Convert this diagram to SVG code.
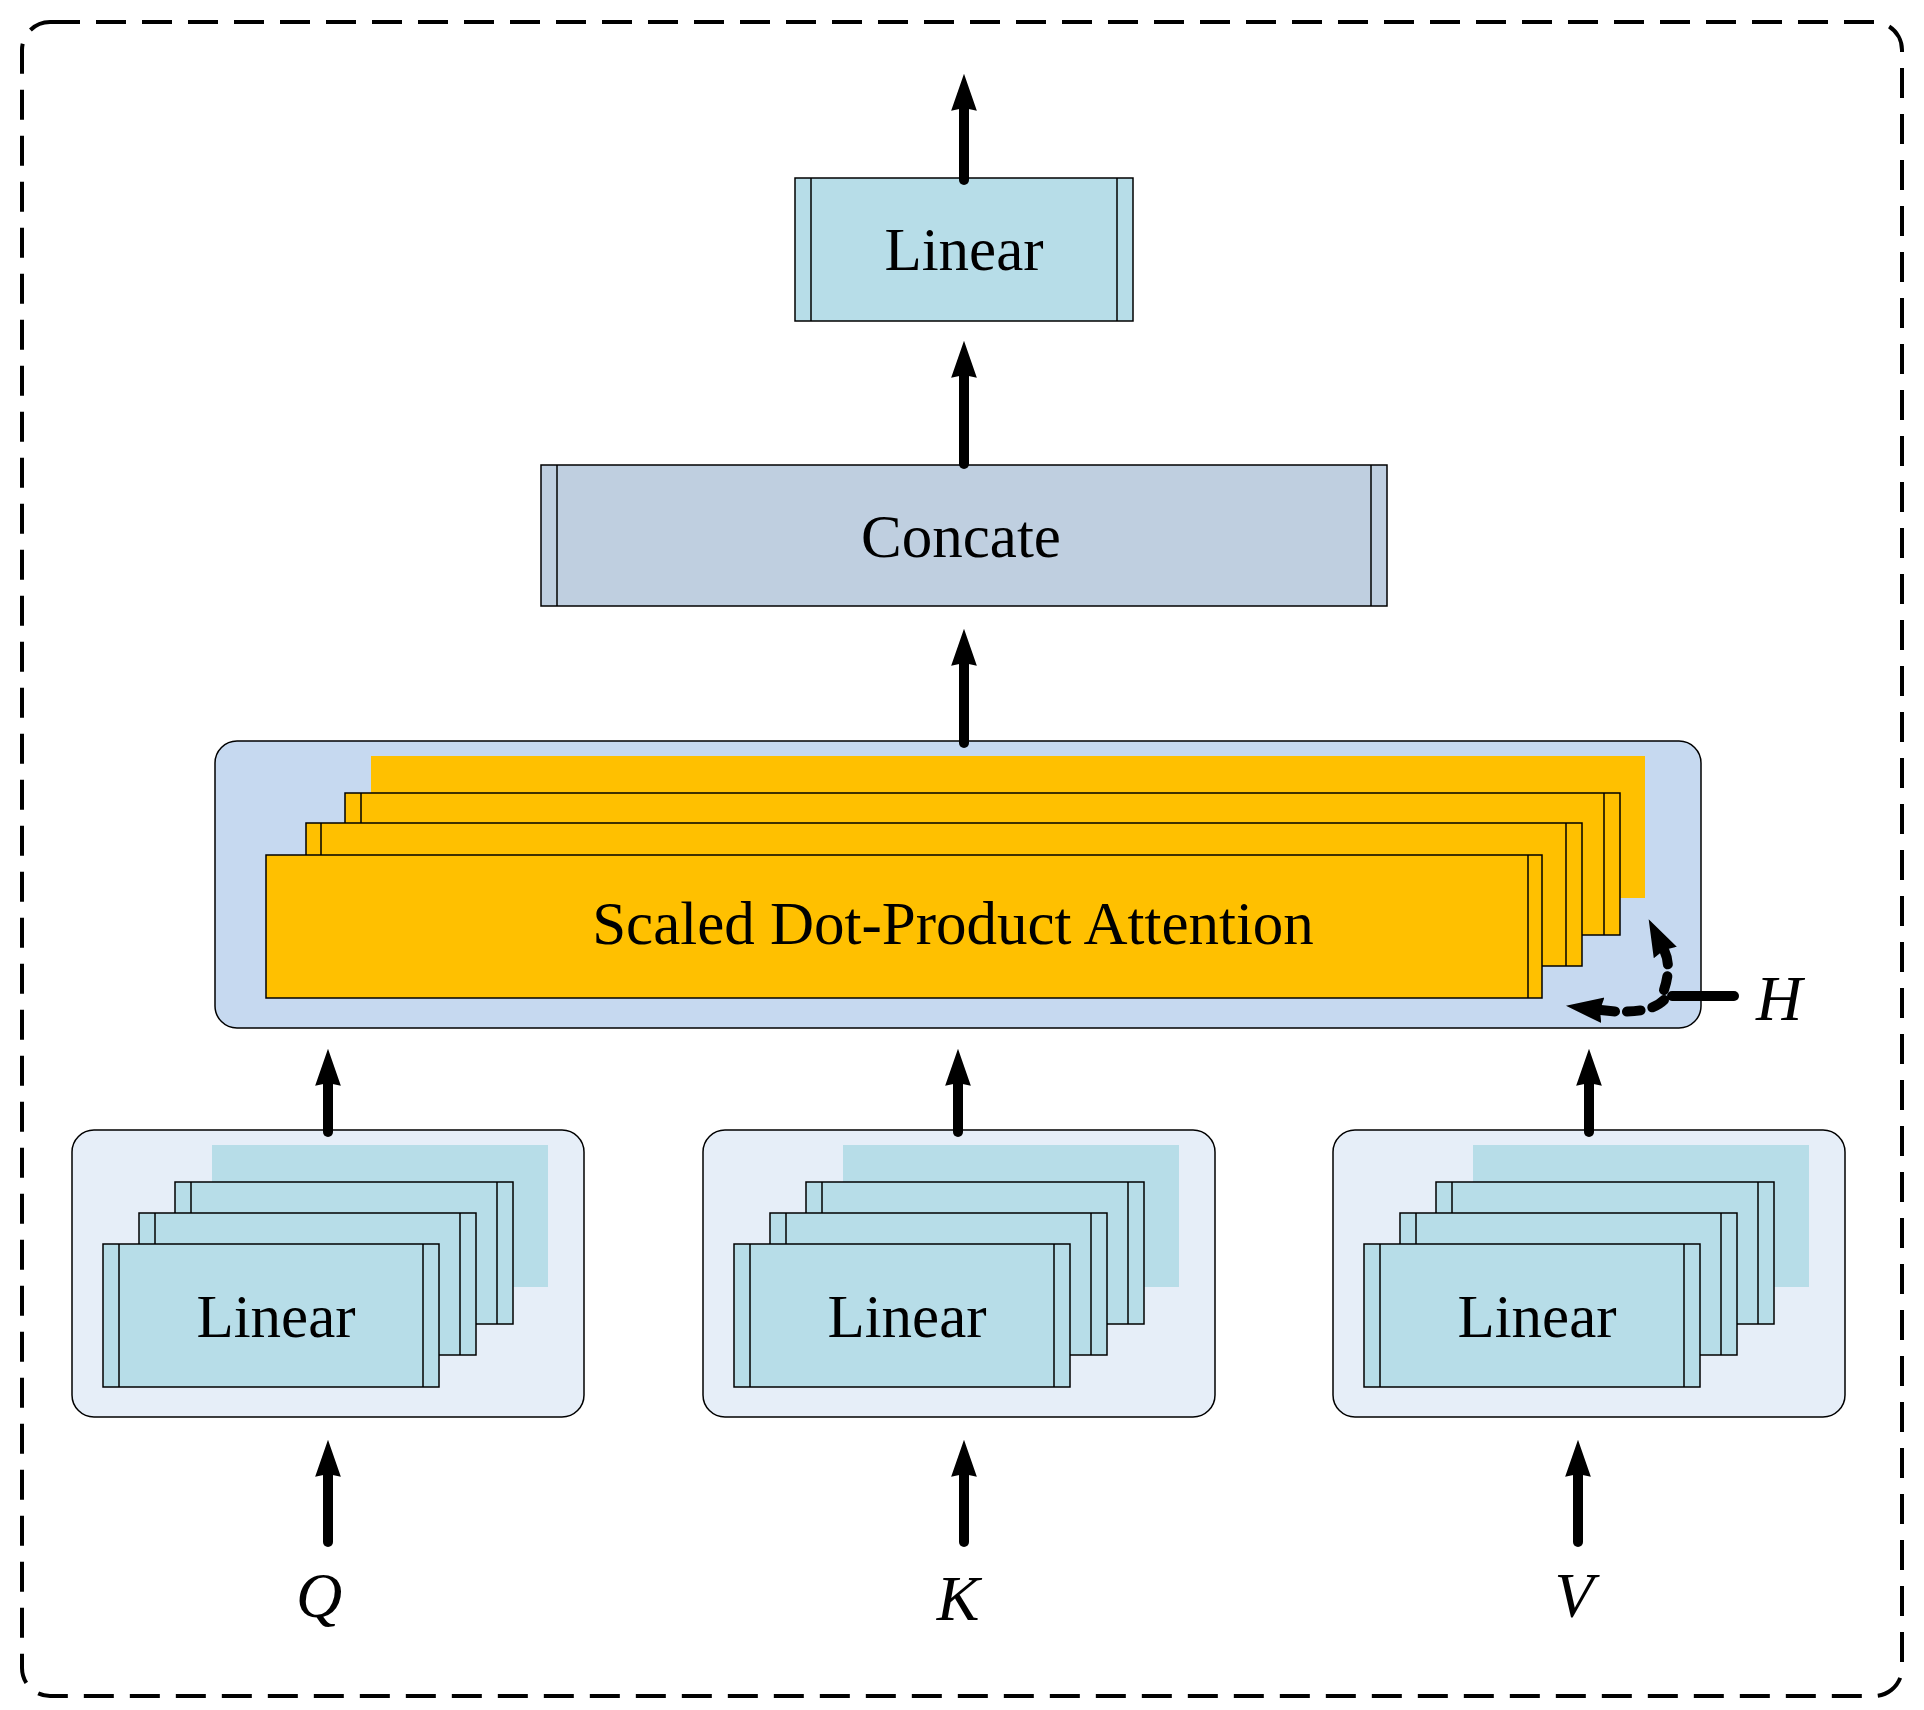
<svg xmlns="http://www.w3.org/2000/svg" width="1924" height="1710" viewBox="0 0 1924 1710">
<defs>
<marker id="ah" markerUnits="userSpaceOnUse" markerWidth="40" markerHeight="56" refX="4" refY="20" orient="auto" viewBox="0 0 56 40">
<path d="M0,2 L4,20 L0,38 L52,20 Z" fill="#000"/>
</marker>
<style>
.arr{stroke:#000;stroke-width:10;fill:none;stroke-linecap:round}
.lin{fill:#b7dde8;stroke:#000;stroke-width:1.5}
.att{fill:#ffc000;stroke:#000;stroke-width:1.5}
.t{font-family:"Liberation Serif",serif;font-size:61px;text-anchor:middle;fill:#000}
.i{font-family:"Liberation Serif",serif;font-size:64px;font-style:italic;text-anchor:middle;fill:#000}
.ln{stroke:#000;stroke-width:1.5}
</style>
</defs>
<rect x="22" y="22" width="1880" height="1674" rx="28" fill="none" stroke="#000" stroke-width="4" stroke-dasharray="30,16"/>

<g id="linear-top">
<rect class="lin" x="795" y="178" width="338" height="143"/>
<line class="ln" x1="811" y1="178" x2="811" y2="321"/><line class="ln" x1="1117" y1="178" x2="1117" y2="321"/>
<text class="t" x="964" y="270">Linear</text>
</g>
<g id="concate">
<rect x="541" y="465" width="846" height="141" fill="#bfcfe0" stroke="#000" stroke-width="1.5"/>
<line class="ln" x1="557" y1="465" x2="557" y2="606"/><line class="ln" x1="1371" y1="465" x2="1371" y2="606"/>
<text class="t" x="961" y="557">Concate</text>
</g>
<g id="attention">
<rect x="215" y="741" width="1486" height="287" rx="22" fill="#c6d9f0" stroke="#000" stroke-width="1.5"/>
<rect x="371" y="756" width="1274" height="142" fill="#ffc000"/>
<rect class="att" x="345" y="793" width="1275" height="142"/>
<line class="ln" x1="361" y1="793" x2="361" y2="935"/><line class="ln" x1="1604" y1="793" x2="1604" y2="935"/>
<rect class="att" x="306" y="823" width="1276" height="143"/>
<line class="ln" x1="321" y1="823" x2="321" y2="966"/><line class="ln" x1="1566" y1="823" x2="1566" y2="966"/>
<rect class="att" x="266" y="855" width="1276" height="143"/>
<line class="ln" x1="1528" y1="855" x2="1528" y2="998"/>
<text class="t" x="953" y="944">Scaled Dot-Product Attention</text>
</g>
<g id="linear-q">
<rect x="72" y="1130" width="512" height="287" rx="22" fill="#e6eef8" stroke="#000" stroke-width="1.5"/>
<rect x="212" y="1145" width="336" height="142" fill="#b7dde8"/>
<rect class="lin" x="175" y="1182" width="338" height="142"/><line class="ln" x1="191" y1="1182" x2="191" y2="1324"/><line class="ln" x1="497" y1="1182" x2="497" y2="1324"/>
<rect class="lin" x="139" y="1213" width="337" height="142"/><line class="ln" x1="155" y1="1213" x2="155" y2="1355"/><line class="ln" x1="460" y1="1213" x2="460" y2="1355"/>
<rect class="lin" x="103" y="1244" width="336" height="143"/><line class="ln" x1="119" y1="1244" x2="119" y2="1387"/><line class="ln" x1="423" y1="1244" x2="423" y2="1387"/>
<text class="t" x="276" y="1337">Linear</text>
</g>
<g id="linear-k" transform="translate(631,0)">
<rect x="72" y="1130" width="512" height="287" rx="22" fill="#e6eef8" stroke="#000" stroke-width="1.5"/>
<rect x="212" y="1145" width="336" height="142" fill="#b7dde8"/>
<rect class="lin" x="175" y="1182" width="338" height="142"/><line class="ln" x1="191" y1="1182" x2="191" y2="1324"/><line class="ln" x1="497" y1="1182" x2="497" y2="1324"/>
<rect class="lin" x="139" y="1213" width="337" height="142"/><line class="ln" x1="155" y1="1213" x2="155" y2="1355"/><line class="ln" x1="460" y1="1213" x2="460" y2="1355"/>
<rect class="lin" x="103" y="1244" width="336" height="143"/><line class="ln" x1="119" y1="1244" x2="119" y2="1387"/><line class="ln" x1="423" y1="1244" x2="423" y2="1387"/>
<text class="t" x="276" y="1337">Linear</text>
</g>
<g id="linear-v" transform="translate(1261,0)">
<rect x="72" y="1130" width="512" height="287" rx="22" fill="#e6eef8" stroke="#000" stroke-width="1.5"/>
<rect x="212" y="1145" width="336" height="142" fill="#b7dde8"/>
<rect class="lin" x="175" y="1182" width="338" height="142"/><line class="ln" x1="191" y1="1182" x2="191" y2="1324"/><line class="ln" x1="497" y1="1182" x2="497" y2="1324"/>
<rect class="lin" x="139" y="1213" width="337" height="142"/><line class="ln" x1="155" y1="1213" x2="155" y2="1355"/><line class="ln" x1="460" y1="1213" x2="460" y2="1355"/>
<rect class="lin" x="103" y="1244" width="336" height="143"/><line class="ln" x1="119" y1="1244" x2="119" y2="1387"/><line class="ln" x1="423" y1="1244" x2="423" y2="1387"/>
<text class="t" x="276" y="1337">Linear</text>
</g>
<g id="labels">
<text class="i" x="319" y="1617">Q</text>
<text class="i" x="958" y="1620">K</text>
<text class="i" x="1574" y="1617">V</text>
<text class="i" x="1779" y="1020">H</text>
</g>
<g id="connectors">
<line class="arr" x1="964" y1="180" x2="964" y2="108" marker-end="url(#ah)"/>
<line class="arr" x1="964" y1="464" x2="964" y2="375" marker-end="url(#ah)"/>
<line class="arr" x1="964" y1="743" x2="964" y2="663" marker-end="url(#ah)"/>
<line class="arr" x1="328" y1="1132" x2="328" y2="1083" marker-end="url(#ah)"/>
<line class="arr" x1="958" y1="1132" x2="958" y2="1083" marker-end="url(#ah)"/>
<line class="arr" x1="1589" y1="1132" x2="1589" y2="1083" marker-end="url(#ah)"/>
<line class="arr" x1="328" y1="1542" x2="328" y2="1474" marker-end="url(#ah)"/>
<line class="arr" x1="964" y1="1542" x2="964" y2="1474" marker-end="url(#ah)"/>
<line class="arr" x1="1578" y1="1542" x2="1578" y2="1474" marker-end="url(#ah)"/>
<line class="arr" x1="1734" y1="996" x2="1672" y2="996"/>
<path class="arr" d="M1664,990 Q1672,966 1664,950" stroke-dasharray="14,12" marker-end="url(#ah)"/>
<path class="arr" d="M1664,1000 Q1648,1016 1600,1010" stroke-dasharray="14,12" marker-end="url(#ah)"/>
</g>
</svg>
